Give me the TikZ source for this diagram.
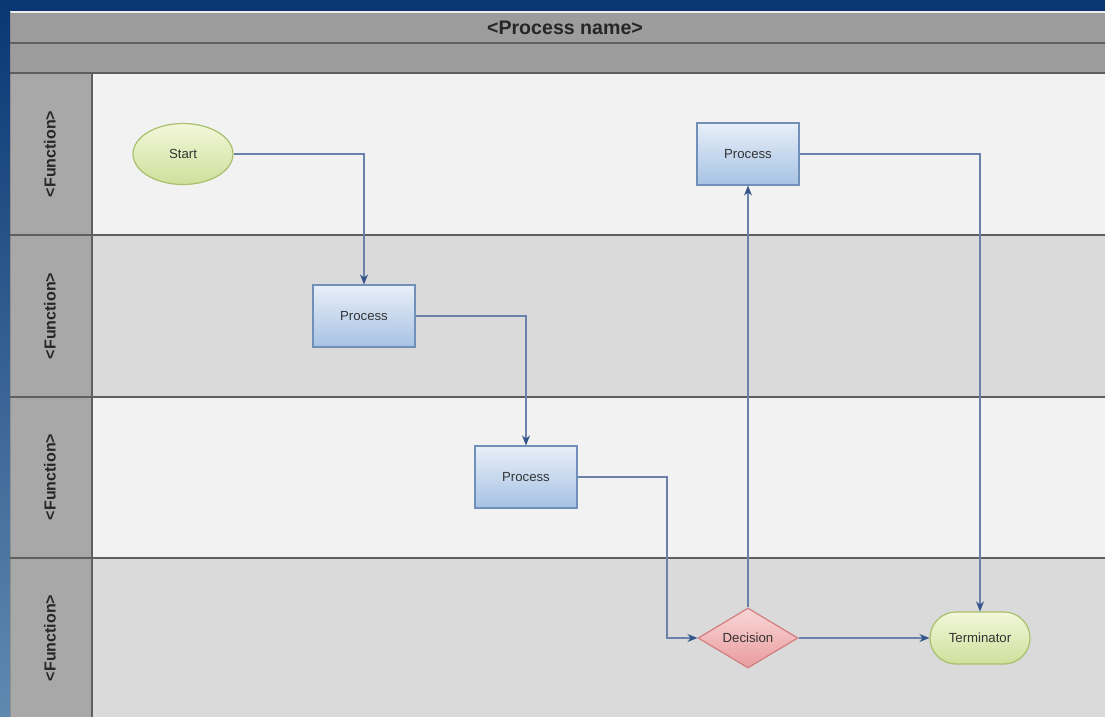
\documentclass[tikz,border=0pt]{standalone}
\usepackage{fontspec}
\setmainfont{Liberation Sans}
\usetikzlibrary{shapes.geometric,arrows.meta}
\definecolor{bluetop}{HTML}{0A3774}
\definecolor{bluebot}{HTML}{6089B0}
\definecolor{barfill}{HTML}{9C9C9C}
\definecolor{headfill}{HTML}{A8A8A8}
\definecolor{lanelight}{HTML}{F2F2F2}
\definecolor{lanedark}{HTML}{DADADA}
\definecolor{laneline}{HTML}{5F5F5F}
\definecolor{proctop}{HTML}{E8EFF8}
\definecolor{procbot}{HTML}{A6C2E4}
\definecolor{procline}{HTML}{7090BA}
\definecolor{greentop}{HTML}{F3F7DA}
\definecolor{greenbot}{HTML}{CEE09C}
\definecolor{greenline}{HTML}{A9C06C}
\definecolor{redtop}{HTML}{F9D6D6}
\definecolor{redbot}{HTML}{E99C9E}
\definecolor{redline}{HTML}{D27E80}
\definecolor{flowline}{HTML}{6A82AB}
\definecolor{flowtip}{HTML}{34558A}
\definecolor{nodetext}{HTML}{333333}
\tikzset{
    nodefont/.style={font=\fontsize{6.6}{8}\selectfont, text=nodetext},
    procbox/.style={rectangle, draw=procline, line width=0.6pt, top color=proctop, bottom color=procbot, minimum width=51pt, minimum height=31pt, nodefont},
    startnode/.style={ellipse, draw=greenline, line width=0.6pt, top color=greentop, bottom color=greenbot, minimum width=50pt, minimum height=30.5pt, inner sep=0pt, nodefont},
    termnode/.style={rectangle, rounded corners=13pt, draw=greenline, line width=0.6pt, top color=greentop, bottom color=greenbot, minimum width=50pt, minimum height=26pt, nodefont},
    decbox/.style={diamond, aspect=1.67, draw=redline, line width=0.6pt, top color=redtop, bottom color=redbot, minimum width=50pt, minimum height=30pt, inner sep=1pt, nodefont},
    flow/.style={draw=flowline, line width=0.7pt, -{Stealth[length=5pt,width=4pt,color=flowtip]}},
    lanelabel/.style={rotate=90, font=\bfseries\fontsize{8}{9}\selectfont, text=black!85}
}
\begin{document}
\begin{tikzpicture}[x=0.5pt,y=-0.5pt]
    \useasboundingbox (0,0) rectangle (1105,717);
    \shade[top color=bluetop, bottom color=bluebot] (0,0) rectangle (1105,717);
    \fill[barfill] (10,12) rectangle (1105,73);
    \fill[lanelight] (10,73) rectangle (1105,235);
    \fill[lanedark] (10,235) rectangle (1105,397);
    \fill[lanelight] (10,397) rectangle (1105,558);
    \fill[lanedark] (10,558) rectangle (1105,717);
    \fill[headfill] (10,73) rectangle (92,717);
    \draw[white!85!gray, line width=1pt] (10,12.5) -- (1105,12.5);
    \draw[laneline!70, line width=0.8pt] (10.5,12) -- (10.5,717);
    \draw[laneline, line width=1pt] (10,43) -- (1105,43);
    \draw[laneline, line width=1pt] (10,73) -- (1105,73);
    \draw[laneline, line width=1pt] (10,235) -- (1105,235);
    \draw[laneline, line width=1pt] (10,397) -- (1105,397);
    \draw[laneline, line width=1pt] (10,558) -- (1105,558);
    \draw[laneline, line width=1pt] (92,73) -- (92,717);
    \node [font=\bfseries\fontsize{9.8}{11}\selectfont, text=black!85] (title) at (565,28) {<Process name>};
    \node [lanelabel] (lane1) at (50,154) {<Function>};
    \node [lanelabel] (lane2) at (50,316) {<Function>};
    \node [lanelabel] (lane3) at (50,477) {<Function>};
    \node [lanelabel] (lane4) at (50,638) {<Function>};
    \node [startnode] (start) at (183,154) {Start};
    \node [procbox] (proc1) at (364,316) {Process};
    \node [procbox] (proc2) at (526,477) {Process};
    \node [procbox] (proc3) at (748,154) {Process};
    \node [decbox] (dec) at (748,638) {Decision};
    \node [termnode] (term) at (980,638) {Terminator};
    \coordinate (bend) at (667,638);
    \draw[flow] (start.east) -| (proc1.north);
    \draw[flow] (proc1.east) -| (proc2.north);
    \draw[flow] (proc2.east) -| (bend) -- (dec.west);
    \draw[flow] (dec.north) -- (proc3.south);
    \draw[flow] (proc3.east) -| (term.north);
    \draw[flow] (dec.east) -- (term.west);
\end{tikzpicture}
\end{document}
